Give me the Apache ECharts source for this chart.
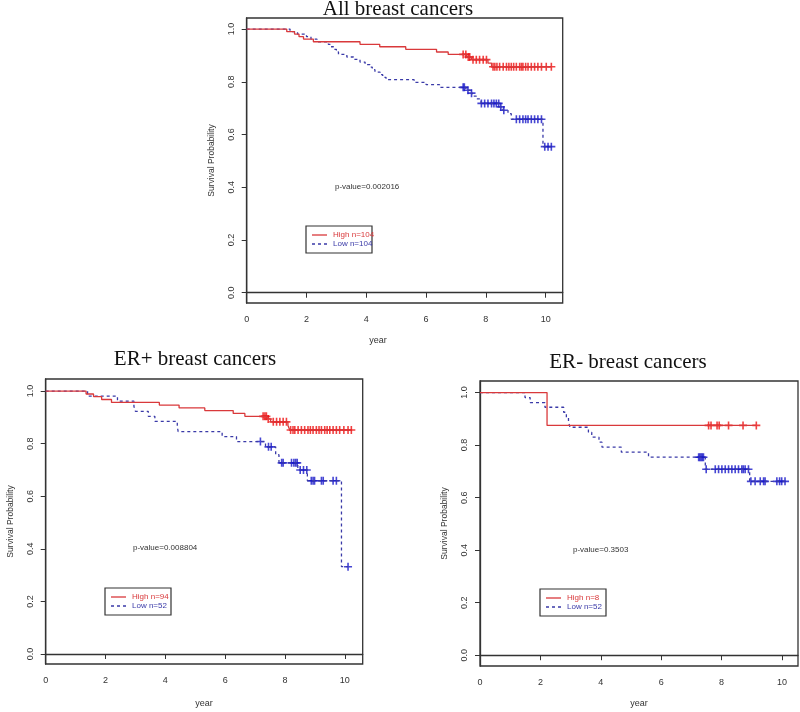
<!DOCTYPE html>
<html>
<head>
<meta charset="utf-8">
<script src="https://cdn.jsdelivr.net/npm/echarts@6/dist/echarts.min.js"></script>
<style>
  html, body { margin: 0; padding: 0; background: #fff; }
  #main { width: 800px; height: 712px; }
</style>
</head>
<body>
<div id="main"></div>
<script>
// 刻度
var xTicks = [0, 2, 4, 6, 8, 10];
var yTicks = [0, 0.2, 0.4, 0.6, 0.8, 1.0];

// 文字
var titles = ['All breast cancers', 'ER+ breast cancers', 'ER- breast cancers'];
var pValues = ['p-value=0.002016', 'p-value=0.008804', 'p-value=0.3503'];
var highLabels = ['High n=104', 'High n=94', 'High n=8'];
var lowLabels = ['Low n=104', 'Low n=52', 'Low n=52'];

// All breast cancers : [year, survival] at each death, censor times
var allHighEvents = [[1.34, 0.990], [1.6, 0.981], [1.75, 0.971], [1.9, 0.962], [2.23, 0.952],
  [3.79, 0.942], [4.45, 0.933], [5.32, 0.923], [6.35, 0.913], [6.74, 0.904],
  [7.35, 0.894], [7.52, 0.884], [8.07, 0.871], [8.19, 0.857]];
var allHighCensor = [7.24, 7.33, 7.41, 7.46, 7.57, 7.68, 7.79, 7.91, 8.02, 8.24, 8.30, 8.37, 8.46,
  8.58, 8.69, 8.77, 8.85, 8.93, 9.02, 9.13, 9.19, 9.24, 9.33, 9.41, 9.52, 9.63, 9.74, 9.86, 10.02, 10.19];
var allLowEvents = [[1.45, 0.990], [1.7, 0.981], [2.0, 0.971], [2.15, 0.962], [2.35, 0.952],
  [2.73, 0.942], [2.8, 0.933], [2.9, 0.923], [3.0, 0.913], [3.07, 0.904],
  [3.35, 0.894], [3.57, 0.885], [3.79, 0.875], [3.96, 0.865], [4.12, 0.856], [4.2, 0.846],
  [4.29, 0.837], [4.46, 0.827], [4.55, 0.817], [4.66, 0.808], [5.6, 0.798], [6.0, 0.789],
  [6.45, 0.779], [7.33, 0.768], [7.48, 0.757], [7.55, 0.746], [7.68, 0.735], [7.84, 0.718],
  [8.46, 0.705], [8.57, 0.692], [8.74, 0.679], [8.85, 0.658], [9.91, 0.554]];
var allLowCensor = [7.24, 7.28, 7.4, 7.52, 7.85, 7.96, 8.07, 8.19, 8.27, 8.35, 8.43, 8.5, 8.6,
  9.02, 9.13, 9.24, 9.33, 9.41, 9.52, 9.63, 9.74, 9.86, 9.97, 10.08, 10.19];

// ER+ breast cancers
var posHighEvents = [[1.35, 0.989], [1.6, 0.979], [1.87, 0.968], [2.2, 0.957], [3.8, 0.947],
  [4.46, 0.936], [5.32, 0.926], [6.27, 0.915], [6.66, 0.904], [7.4, 0.894], [7.52, 0.883],
  [8.1, 0.869], [8.16, 0.852]];
var posHighCensor = [7.27, 7.33, 7.38, 7.44, 7.61, 7.72, 7.83, 7.94, 8.05, 8.19, 8.27, 8.33, 8.44,
  8.55, 8.66, 8.77, 8.85, 8.94, 9.05, 9.14, 9.22, 9.33, 9.41, 9.5, 9.61, 9.72, 9.83, 9.97, 10.11, 10.22];
var posLowEvents = [[1.4, 0.981], [2.4, 0.962], [2.95, 0.942], [3.0, 0.923], [3.43, 0.904],
  [3.65, 0.885], [4.4, 0.865], [4.43, 0.846], [5.9, 0.827], [6.38, 0.808], [7.35, 0.788],
  [7.69, 0.758], [7.8, 0.727], [8.43, 0.700], [8.75, 0.659], [9.89, 0.332]];
var posLowCensor = [7.18, 7.45, 7.54, 7.89, 7.94, 8.22, 8.3, 8.36, 8.41, 8.51, 8.62, 8.73,
  8.88, 8.94, 8.99, 9.22, 9.28, 9.61, 9.72, 10.11];

// ER- breast cancers
var negHighEvents = [[2.22, 0.875]];
var negHighCensor = [7.57, 7.65, 7.85, 7.92, 8.23, 8.71, 9.15];
var negLowEvents = [[1.49, 0.981], [1.66, 0.962], [2.15, 0.944], [2.77, 0.925], [2.86, 0.906],
  [2.93, 0.887], [2.98, 0.868], [3.59, 0.849], [3.7, 0.830], [3.94, 0.811], [4.04, 0.792],
  [4.68, 0.773], [5.58, 0.754], [7.46, 0.708], [8.93, 0.662]];
var negLowCensor = [7.24, 7.28, 7.32, 7.36, 7.4, 7.49, 7.79, 7.9, 8.01, 8.12, 8.23, 8.34, 8.45,
  8.56, 8.67, 8.72, 8.78, 8.89, 8.97, 9.11, 9.28, 9.39, 9.44, 9.83, 9.92, 9.99, 10.1];

var redLine = '#d9393b', redMark = '#ee1010';
var blueLine = '#3a3aa8', blueMark = '#1818c8';
var cross = 'path://M4,0H6V4H10V6H6V10H4V6H0V4H4Z';

// 布局：每个面板的位置
var panels = [
  { high: [allHighEvents, allHighCensor], low: [allLowEvents, allLowCensor],
    grid: { left: 246.7, top: 18, width: 316, height: 285 }, xMax: 10.57, yMin: -0.039, yMax: 1.042,
    title: [398, 9], year: [378, 341], p: [335, 187], leg: [306, 226] },
  { high: [posHighEvents, posHighCensor], low: [posLowEvents, posLowCensor],
    grid: { left: 45.7, top: 379, width: 317, height: 285 }, xMax: 10.6, yMin: -0.038, yMax: 1.046,
    title: [195, 359], year: [204, 704], p: [133, 548], leg: [105, 588] },
  { high: [negHighEvents, negHighCensor], low: [negLowEvents, negLowCensor],
    grid: { left: 480, top: 381, width: 318, height: 285 }, xMax: 10.53, yMin: -0.041, yMax: 1.044,
    title: [628, 362], year: [639, 704], p: [573, 550], leg: [540, 589] }
];

function survAt(events, t) {
  var s = 1;
  events.forEach(function (e) { if (e[0] <= t) s = e[1]; });
  return s;
}
function kmLine(events, censor) {
  var d = [[0, 1]].concat(events);
  var last = Math.max(censor[censor.length - 1], events[events.length - 1][0]);
  d.push([last, events[events.length - 1][1]]);
  return d;
}
function censorPoints(events, censor) {
  return censor.map(function (t) { return [t, survAt(events, t)]; });
}

var grids = [], xAxes = [], yAxes = [], series = [], graphics = [];
var labelFont = 'Liberation Sans';

panels.forEach(function (p, i) {
  grids.push(Object.assign({ show: true, borderColor: '#333', borderWidth: 1.3, containLabel: false }, p.grid));

  xAxes.push({
    type: 'value', gridIndex: i, min: 0, max: p.xMax,
    axisLine: { show: true, lineStyle: { color: '#333', width: 1.3 } },
    axisTick: { show: true, length: 5, customValues: xTicks, lineStyle: { color: '#333' } },
    axisLabel: { customValues: xTicks, color: '#333', fontSize: 9, fontFamily: labelFont, margin: 12 },
    splitLine: { show: false }
  });
  yAxes.push({
    type: 'value', gridIndex: i, min: p.yMin, max: p.yMax,
    name: 'Survival Probability', nameLocation: 'middle', nameGap: 31,
    nameTextStyle: { color: '#333', fontSize: 8.5, fontFamily: labelFont },
    axisLine: { show: true, lineStyle: { color: '#333', width: 1.3 } },
    axisTick: { show: true, length: 5, customValues: yTicks, lineStyle: { color: '#333' } },
    axisLabel: { customValues: yTicks, rotate: 90, color: '#333', fontSize: 9, fontFamily: labelFont, margin: 11,
      formatter: function (v) { return v.toFixed(1); } },
    splitLine: { show: false }
  });

  // 曲线
  series.push({
    type: 'line', xAxisIndex: i, yAxisIndex: i, step: 'end', showSymbol: false, silent: true,
    data: kmLine(p.low[0], p.low[1]),
    lineStyle: { color: blueLine, width: 1.3, type: [3, 3] }
  });
  series.push({
    type: 'line', xAxisIndex: i, yAxisIndex: i, step: 'end', showSymbol: false, silent: true,
    data: kmLine(p.high[0], p.high[1]),
    lineStyle: { color: redLine, width: 1.3 }
  });
  // 删失标记
  series.push({
    type: 'scatter', xAxisIndex: i, yAxisIndex: i, symbol: cross, symbolSize: 8, silent: true,
    data: censorPoints(p.low[0], p.low[1]), itemStyle: { color: blueMark }
  });
  series.push({
    type: 'scatter', xAxisIndex: i, yAxisIndex: i, symbol: cross, symbolSize: 8, silent: true,
    data: censorPoints(p.high[0], p.high[1]), itemStyle: { color: redMark }
  });

  // 标题
  graphics.push({
    type: 'text', x: p.title[0], y: p.title[1],
    style: { text: titles[i], textAlign: 'center', textVerticalAlign: 'middle',
      fontSize: 21, fontFamily: 'Liberation Serif', fill: '#111' }
  });
  // x 轴名
  graphics.push({
    type: 'text', x: p.year[0], y: p.year[1],
    style: { text: 'year', textAlign: 'center', textVerticalAlign: 'middle',
      fontSize: 9, fontFamily: labelFont, fill: '#333' }
  });
  // p 值
  graphics.push({
    type: 'text', x: p.p[0], y: p.p[1],
    style: { text: pValues[i], textAlign: 'left', textVerticalAlign: 'middle',
      fontSize: 8, fontFamily: labelFont, fill: '#333' }
  });
  // 图例
  var lx = p.leg[0], ly = p.leg[1];
  graphics.push({
    type: 'rect', shape: { x: lx, y: ly, width: 66, height: 27 },
    style: { fill: '#fff', stroke: '#333', lineWidth: 1.2 }
  });
  graphics.push({
    type: 'line', shape: { x1: lx + 6, y1: ly + 9, x2: lx + 21, y2: ly + 9 },
    style: { stroke: redLine, lineWidth: 1.3 }
  });
  graphics.push({
    type: 'line', shape: { x1: lx + 6, y1: ly + 18, x2: lx + 21, y2: ly + 18 },
    style: { stroke: blueLine, lineWidth: 1.3, lineDash: [3, 3] }
  });
  graphics.push({
    type: 'text', x: lx + 27, y: ly + 9,
    style: { text: highLabels[i], textAlign: 'left', textVerticalAlign: 'middle',
      fontSize: 8, fontFamily: labelFont, fill: redLine }
  });
  graphics.push({
    type: 'text', x: lx + 27, y: ly + 18,
    style: { text: lowLabels[i], textAlign: 'left', textVerticalAlign: 'middle',
      fontSize: 8, fontFamily: labelFont, fill: blueLine }
  });
});

var myChart = echarts.init(document.getElementById('main'));
myChart.setOption({
  animation: false,
  backgroundColor: '#fff',
  grid: grids,
  xAxis: xAxes,
  yAxis: yAxes,
  series: series,
  graphic: graphics
});
</script>
</body>
</html>
